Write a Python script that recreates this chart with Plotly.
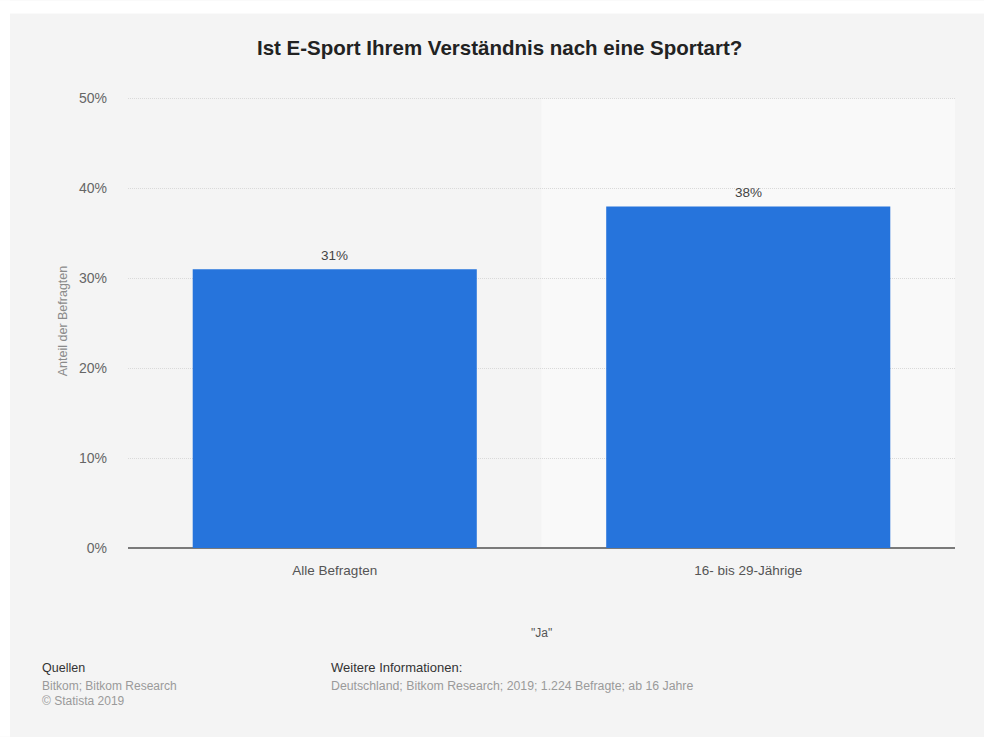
import plotly.graph_objects as go

# Survey data
categories = ["Alle Befragten", "16- bis 29-Jährige"]
values = [31, 38]
y_ticks = [0, 10, 20, 30, 40, 50]
y_tick_labels = ["0%", "10%", "20%", "30%", "40%", "50%"]

title_text = "Ist E-Sport Ihrem Verständnis nach eine Sportart?"
y_title = "Anteil der Befragten"
x_title = "\"Ja\""

FONT = "Liberation Sans, Arial, Helvetica, sans-serif"
BAR_COLOR = "#2674dc"
CARD = "#f4f4f4"

Y_MAX = 50.5  # a little headroom so the 50% grid line is drawn

W, H = 984, 737
L, R, B = 128, 29, 189
T = 98 - (Y_MAX - 50) * 9  # 9 px per percentage point
pw, ph = W - L - R, H - T - B


def px_x(px):
    return (px - L) / pw


def px_y(py):
    return (H - B - py) / ph


fig = go.Figure()
fig.add_trace(go.Bar(
    x=categories,
    y=values,
    marker=dict(color=BAR_COLOR, line=dict(width=0)),
    hoverinfo="skip",
))

top_frac = 50 / Y_MAX
shapes = [
    # highlighted band behind the second category
    dict(type="rect", xref="x", yref="paper", x0=0.5, x1=1.5, y0=0, y1=top_frac,
         fillcolor="#f9f9f9", line=dict(width=0), layer="below"),
    # white page margin around the card (top strip and left strip)
    dict(type="rect", xref="paper", yref="paper",
         x0=px_x(0), x1=px_x(W), y0=px_y(13), y1=px_y(0),
         fillcolor="#ffffff", line=dict(width=0), layer="below"),
    dict(type="rect", xref="paper", yref="paper",
         x0=px_x(0), x1=px_x(10), y0=px_y(H), y1=px_y(0),
         fillcolor="#ffffff", line=dict(width=0), layer="below"),
]

annotations = []
# value labels above bars
for c, v in zip(categories, values):
    annotations.append(dict(
        x=c, y=v, xref="x", yref="y", text=f"{v}%", showarrow=False,
        yanchor="bottom", yshift=4,
        font=dict(family=FONT, size=13.5, color="#444444"),
    ))

footer = [
    ("Quellen", 40, 668, "#333333", 12.5),
    ("Bitkom; Bitkom Research", 40, 686, "#9a9a9a", 12),
    ("© Statista 2019", 40, 701, "#9a9a9a", 12),
    ("Weitere Informationen:", 329, 668, "#333333", 13),
    ("Deutschland; Bitkom Research; 2019; 1.224 Befragte; ab 16 Jahre", 329, 686, "#9a9a9a", 12.3),
]
for text, x, y, col, sz in footer:
    annotations.append(dict(
        x=px_x(x), y=px_y(y), xref="paper", yref="paper", text=text,
        showarrow=False, xanchor="left", yanchor="middle",
        font=dict(family=FONT, size=sz, color=col),
    ))

# chart title
annotations.append(dict(
    x=px_x(499), y=px_y(47), xref="paper", yref="paper",
    text=f"<b>{title_text}</b>", showarrow=False,
    xanchor="center", yanchor="middle",
    font=dict(family=FONT, size=20.5, color="#222222"),
))
# x axis caption
annotations.append(dict(
    x=(541.5 - L) / pw, y=px_y(633), xref="paper", yref="paper", text=x_title,
    showarrow=False, xanchor="center", yanchor="middle",
    font=dict(family=FONT, size=12, color="#555555"),
))
# y axis caption
annotations.append(dict(
    x=px_x(63), y=px_y(321), xref="paper", yref="paper", text=y_title,
    showarrow=False, textangle=-90, xanchor="center", yanchor="middle",
    font=dict(family=FONT, size=12.5, color="#8a8a8a"),
))

fig.update_layout(
    width=W, height=H,
    margin=dict(l=L, r=R, t=T, b=B),
    paper_bgcolor=CARD,
    plot_bgcolor=CARD,
    bargap=0.313,
    showlegend=False,
    shapes=shapes,
    annotations=annotations,
    xaxis=dict(
        showgrid=False, zeroline=False, showline=False, ticks="",
        ticklabelstandoff=12,
        tickfont=dict(family=FONT, size=13.5, color="#555555"),
        fixedrange=True,
    ),
    yaxis=dict(
        range=[0, Y_MAX], tickvals=y_ticks, ticktext=y_tick_labels,
        showgrid=True, gridcolor="#d9d9d9", griddash="1px,1px", gridwidth=1,
        zeroline=True, zerolinecolor="#7a7a7a", zerolinewidth=2,
        showline=False, ticks="", ticklabelstandoff=20,
        tickfont=dict(family=FONT, size=14, color="#666666"),
        fixedrange=True,
    ),
)

fig.write_html("out.html", config={"displayModeBar": False})
